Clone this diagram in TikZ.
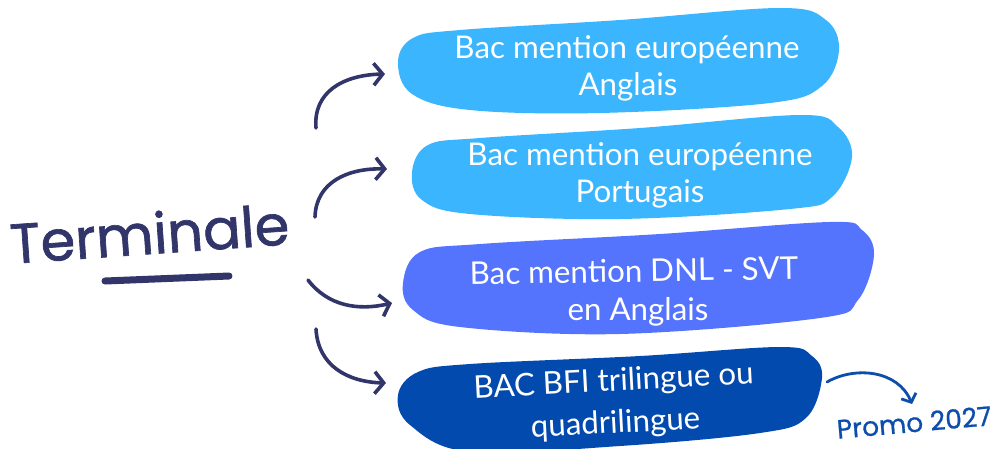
\documentclass[tikz,border=0pt]{standalone}
\usepackage{fontspec}
\setmainfont{Lato}
\newfontfamily\handfont{Poppins}[FakeBold=1.2]
\newfontfamily\promofont{Poppins}[FakeBold=0.8]
\usetikzlibrary{arrows.meta}
\definecolor{lightblob}{RGB}{59,181,254}
\definecolor{midblob}{RGB}{84,116,254}
\definecolor{darkblob}{RGB}{3,74,174}
\definecolor{navy}{RGB}{49,53,106}
\definecolor{promoblue}{RGB}{13,77,171}
\tikzset{
  blobtext/.style={text=white, font=\fontsize{31.3}{36}\selectfont, inner sep=0pt, anchor=base},
  curvearrow/.style={draw=navy, line width=3.6pt, line cap=round, line join=round,
    -{Straight Barb[length=9pt,width=22pt,line width=3.6pt]}},
}
\begin{document}
\begin{tikzpicture}[x=1pt,y=-1pt]
\useasboundingbox (0,0) rectangle (1005,448);
% blobs
\fill[lightblob] plot[smooth cycle, tension=0.6] coordinates {(398,62) (413,38) (460,30) (620,20) (780,8) (826,20) (839,50) (822,86) (770,103) (600,113) (470,110) (412,94)};
\fill[lightblob] plot[smooth cycle, tension=0.6] coordinates {(412,172) (428,145) (480,138) (640,128) (800,115) (838,127) (852,157) (832,197) (790,209) (620,219) (470,214) (422,200)};
\fill[midblob] plot[smooth cycle, tension=0.6] coordinates {(403,283) (420,252) (480,244) (660,234) (830,222) (862,230) (874,255) (858,300) (820,318) (620,334) (460,327) (413,310)};
\fill[darkblob] plot[smooth cycle, tension=0.6] coordinates {(398,395) (418,372) (470,364) (640,356) (780,347) (812,356) (822,378) (806,418) (760,433) (620,446) (470,452) (410,425)};
% blob texts
\node[blobtext] (b1a) at (627,58) {Bac mention européenne};
\node[blobtext] (b1b) at (628,95) {Anglais};
\node[blobtext] (b2a) at (640,165) {Bac mention européenne};
\node[blobtext] (b2b) at (640,202) {Portugais};
\node[blobtext, rotate=1] (b3a) at (634,282) {Bac mention DNL - SVT};
\node[blobtext] (b3b) at (638,320) {en Anglais};
\node[blobtext, rotate=3] (b4a) at (614,391) {BAC BFI trilingue ou};
\node[blobtext, rotate=3] (b4b) at (616,433) {quadrilingue};
% Terminale
\node[text=navy, font=\handfont\fontsize{56}{60}\selectfont, inner sep=0pt, anchor=base, rotate=4] (term) at (151,254) {Terminale};
\coordinate (ulA) at (105,281);
\coordinate (ulB) at (229,276);
\draw[navy, line width=7pt, line cap=round] (ulA) -- (ulB);
% arrows
\coordinate (s1) at (316,128); \coordinate (e1) at (385,74);
\coordinate (s2) at (315,217); \coordinate (e2) at (387,169);
\coordinate (s3) at (308,280); \coordinate (e3) at (392,303);
\coordinate (s4) at (316,329); \coordinate (e4) at (386,383);
\draw[curvearrow] (s1) .. controls (313,92) and (343,75) .. (e1);
\draw[curvearrow] (s2) .. controls (316,182) and (348,168) .. (e2);
\draw[curvearrow] (s3) .. controls (328,306) and (358,311) .. (e3);
\draw[curvearrow] (s4) .. controls (318,366) and (348,382) .. (e4);
% promo
\coordinate (ps) at (827,382); \coordinate (pe) at (912,404);
\draw[promoblue, line width=2.8pt, line cap=round, -{Straight Barb[length=7pt,width=16pt,line width=2.8pt]}] (ps) .. controls (855,366) and (898,370) .. (pe);
\node[text=promoblue, font=\promofont\fontsize{26.5}{30}\selectfont, inner sep=0pt, anchor=base, rotate=5] (promo) at (915,432) {Promo 2027};
\end{tikzpicture}
\end{document}
